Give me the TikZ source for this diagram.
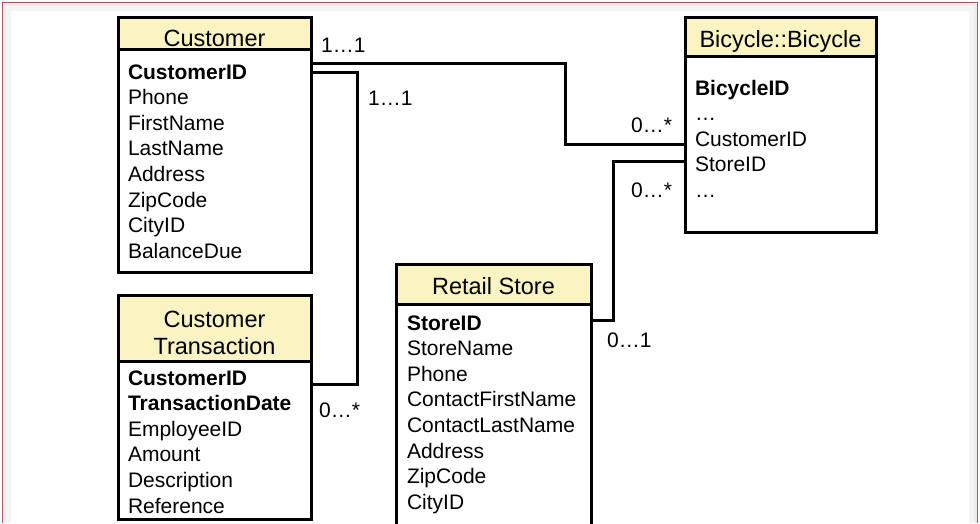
\documentclass[tikz,border=0pt]{standalone}
\usepackage{fontspec}
\setmainfont{Liberation Sans}
\usetikzlibrary{positioning}
\definecolor{hdrfill}{RGB}{250,244,195}
\definecolor{framered}{RGB}{178,84,98}

\begin{document}
\begin{tikzpicture}[
  x=1pt, y=-1pt,
  tblhead/.style={rectangle, draw, line width=3pt, fill=hdrfill, outer sep=0pt, inner xsep=0pt, inner ysep=0pt, align=center, font=\fontsize{23.5pt}{27pt}\selectfont},
  tblbody/.style={rectangle, draw, line width=3pt, fill=white, outer sep=0pt, inner xsep=10pt, inner ysep=0pt, align=left, font=\fontsize{21pt}{25.6pt}\selectfont},
  mult/.style={font=\fontsize{21pt}{25pt}\selectfont, inner sep=0pt, anchor=base west},
  link/.style={line width=3pt},
]
  \useasboundingbox[fill=white] (0,0) rectangle (980,523);
  % page frame
  \draw[black!4, line width=8pt] (7,523) -- (7,7) -- (973,7) -- (973,523);
  \draw[black!7, line width=3pt] (4.5,523) -- (4.5,4.5) -- (975.5,4.5) -- (975.5,523);
  \draw[framered, line width=1.2pt] (2.5,523) -- (2.5,2.5) -- (977.5,2.5) -- (977.5,523);

  % tables
  \node[tblhead, minimum width=193pt, text height=29.5pt, text depth=2.5pt, anchor=north west] (cust) at (118,17) {Customer};
  \node[tblbody, text width=173pt, text height=30pt, text depth=193pt, below=0pt of cust] (custbody)
    {\textbf{CustomerID}\\Phone\\FirstName\\LastName\\Address\\ZipCode\\CityID\\BalanceDue};

  \node[tblhead, minimum width=193pt, text height=59pt, text depth=7pt, anchor=north west] (ctrans) at (118,295) {Customer\\Transaction};
  \node[tblbody, text width=173pt, text height=24pt, text depth=134pt, below=0pt of ctrans] (ctransbody)
    {\textbf{CustomerID}\\\textbf{TransactionDate}\\EmployeeID\\Amount\\Description\\Reference};

  \node[tblhead, minimum width=195pt, text height=30pt, text depth=10pt, anchor=north west] (store) at (396,264) {Retail Store};
  \node[tblbody, inner xsep=11pt, text width=173pt, text height=26pt, text depth=200pt, below=0pt of store] (storebody)
    {\textbf{StoreID}\\StoreName\\Phone\\ContactFirstName\\ContactLastName\\Address\\ZipCode\\CityID};

  \node[tblhead, minimum width=191pt, text height=30pt, text depth=9pt, anchor=north west] (bike) at (685,17) {Bicycle::Bicycle};
  \node[tblbody, text width=171pt, text height=39pt, text depth=137pt, below=0pt of bike] (bikebody)
    {\textbf{BicycleID}\\…\\CustomerID\\StoreID\\…};

  % associations
  \draw[link] ([yshift=-14pt]custbody.north east) -- ++(254,0) |- ([yshift=-88pt]bikebody.north west);
  \draw[link] ([yshift=-23pt]custbody.north east) -- ++(46,0) |- ([yshift=-23pt]ctransbody.north east);
  \draw[link] ([yshift=-16pt]storebody.north east) -- ++(22,0) |- ([yshift=-105pt]bikebody.north west);

  % multiplicities
  \node[mult] (m1) at (321,52) {1…1};
  \node[mult] (m2) at (368,105) {1…1};
  \node[mult] (m3) at (319,417) {0…*};
  \node[mult] (m4) at (631,132) {0…*};
  \node[mult] (m5) at (631,197) {0…*};
  \node[mult] (m6) at (607,347) {0…1};
\end{tikzpicture}
\end{document}
